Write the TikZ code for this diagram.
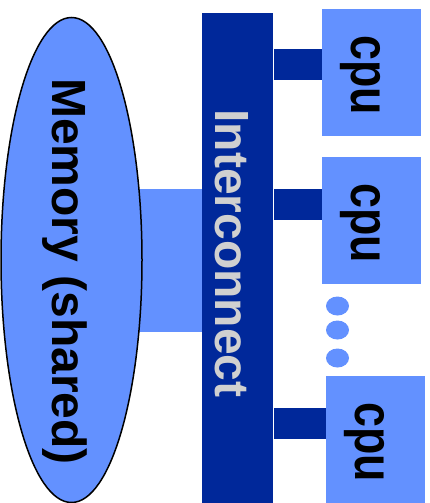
\documentclass[tikz,border=0pt]{standalone}
\usepackage{fontspec}
\setmainfont{Liberation Sans}
\newfontfamily\cpufont[FakeStretch=0.83]{Liberation Sans}
\usetikzlibrary{shapes.geometric, positioning, backgrounds}
\definecolor{cpublue}{HTML}{6391FF}
\definecolor{busblue}{HTML}{00289A}
\definecolor{busgray}{HTML}{D0D0D0}

\begin{document}
\begin{tikzpicture}[
    x=1pt, y=-1pt,
    bigtext/.style={font=\fontsize{48}{48}\selectfont\bfseries, rotate=-90,
                    inner sep=0, anchor=base},
    cpubox/.style={fill=cpublue, minimum width=99pt, minimum height=127pt,
                   inner sep=0},
    link/.style={busblue, line width=31pt, shorten <=1pt},
    port/.style={cpublue, line width=143pt},
  ]
    \useasboundingbox (0,0) rectangle (430,503);

    % shared memory and the bus
    \node[ellipse, draw, line width=1.5pt, fill=cpublue, minimum width=141pt,
          minimum height=485pt, inner sep=0] (mem) at (71.5,260) {};
    \node[fill=busblue, minimum width=71pt, minimum height=490pt,
          inner sep=0] (bus) at (237.5,258) {};
    \begin{scope}[on background layer]
      \draw[port] (mem.center) -- (mem.center -| bus.west);
    \end{scope}

    \node[bigtext] (memlbl) at ([shift={(-19.5,11.5)}]mem.center)
      {Memory (shared)};
    \node[bigtext, text=busgray] (buslbl) at ([shift={(-22.5,-4.5)}]bus.center)
      {Interconnect};

    % processors hanging off the bus
    \foreach \i/\pos/\dy in {1/{371.5,72.5}/8pt, 2/{371.5,220.5}/16pt,
                             3/{375.5,439.5}/16pt} {
      \node[cpubox] (cpu\i) at (\pos) {};
      \node[bigtext, font=\fontsize{54}{54}\cpufont\bfseries] (lbl\i)
        at ([shift={(-20,2.5)}]cpu\i.center) {cpu};
      \draw[link] ([yshift=\dy]cpu\i.west -| bus.east)
        -- ([yshift=\dy]cpu\i.west);
    }

    % more processors
    \foreach \y in {306,330,358}
      \fill[cpublue] (337.5,\y) ellipse [x radius=11.5, y radius=9.5];
  \end{tikzpicture}
\end{document}
